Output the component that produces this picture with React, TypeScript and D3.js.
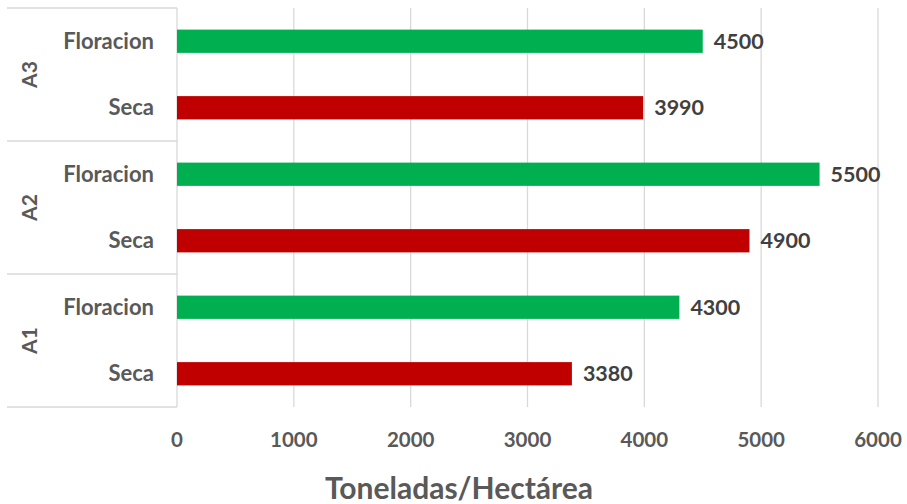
import React from "react";
import * as d3 from "d3";

const groups = ["A3", "A2", "A1"];
const categories = ["A3|Floracion", "A3|Seca", "A2|Floracion", "A2|Seca", "A1|Floracion", "A1|Seca"];
const values = [4500, 3990, 5500, 4900, 4300, 3380];
const colors = ["#00B050", "#C00000", "#00B050", "#C00000", "#00B050", "#C00000"];
const ticks = [0, 1000, 2000, 3000, 4000, 5000, 6000];
const axisTitle = "Toneladas/Hectárea";

const W = 907;
const H = 504;
const left = 177;
const right = 878;
const top = 8;
const bottom = 407;
const font = "Lato, 'Open Sans', sans-serif";

export default function App() {
  const x = d3.scaleLinear().domain([0, 6000]).range([left, right]);
  const y = d3.scaleBand().domain(categories).range([top, bottom]).paddingInner(0.65).paddingOuter(0.325);
  const gScale = d3.scaleBand().domain(groups).range([top, bottom]);
  return (
    <svg width={W} height={H} style={{ position: "absolute", left: 0, top: 0, background: "#fff" }}>
      {ticks.map((t) => (
        <line key={t} x1={x(t)} x2={x(t)} y1={top} y2={bottom} stroke="#D9D9D9" strokeWidth={1.3} />
      ))}
      {groups.map((g) => (
        <line key={g} x1={7} x2={left} y1={gScale(g)!} y2={gScale(g)!} stroke="#D9D9D9" strokeWidth={1.3} />
      ))}
      <line x1={7} x2={left} y1={bottom} y2={bottom} stroke="#D9D9D9" strokeWidth={1.3} />
      {categories.map((c, i) => (
        <g key={c}>
          <rect x={x(0)} y={y(c)!} width={x(values[i]) - x(0)} height={y.bandwidth()} fill={colors[i]} />
          <text x={x(values[i]) + 11} y={y(c)! + y.bandwidth() / 2} dy="0.35em" fontFamily={font} fontWeight="bold" fontSize={21.5} fill="#404040">
            {values[i]}
          </text>
          <text x={154} y={y(c)! + y.bandwidth() / 2} dy="0.35em" textAnchor="end" fontFamily={font} fontWeight="bold" fontSize={22} fill="#595959">
            {c.split("|")[1]}
          </text>
        </g>
      ))}
      {groups.map((g) => {
        const cy = gScale(g)! + gScale.bandwidth() / 2;
        return (
          <text key={g} transform={`translate(30,${cy}) rotate(-90)`} dy="0.35em" textAnchor="middle" fontFamily={font} fontWeight="bold" fontSize={21} fill="#595959">
            {g}
          </text>
        );
      })}
      {ticks.map((t) => (
        <text key={t} x={x(t)} y={440} dy="0.35em" textAnchor="middle" fontFamily={font} fontWeight="bold" fontSize={20.5} fill="#595959">
          {t}
        </text>
      ))}
      <text x={459} y={488} dy="0.35em" textAnchor="middle" fontFamily={font} fontWeight="bold" fontSize={30} fill="#595959">
        {axisTitle}
      </text>
    </svg>
  );
}
